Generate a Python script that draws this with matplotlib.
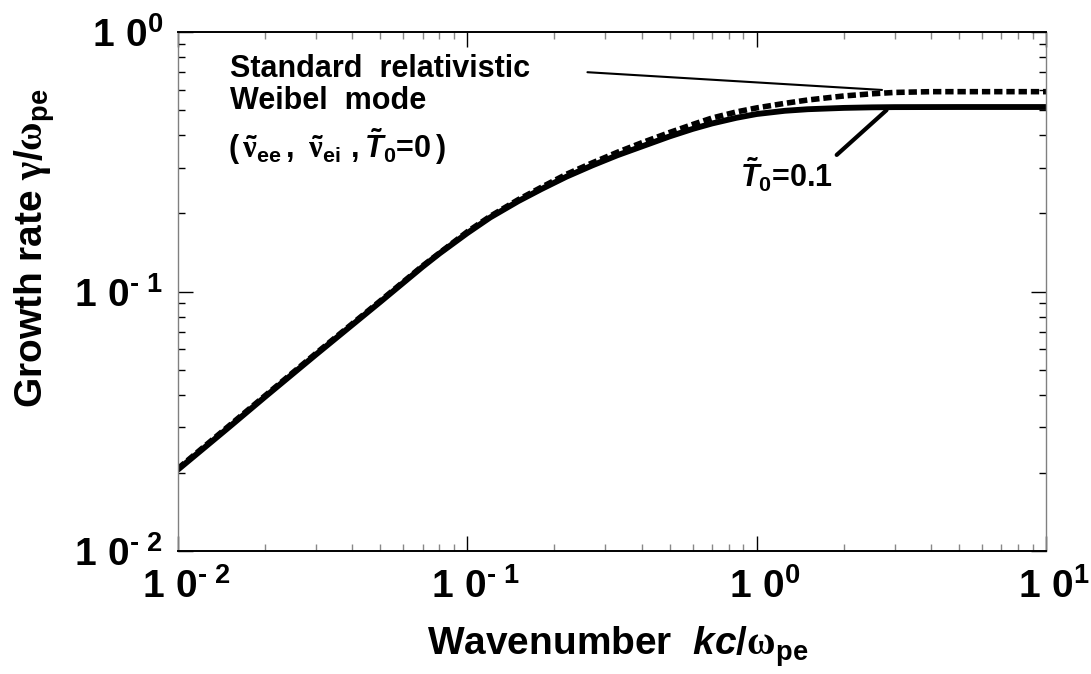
import numpy as np
import matplotlib
matplotlib.use("Agg")
import matplotlib.pyplot as plt
import matplotlib.transforms as mtransforms
from matplotlib.ticker import FixedLocator, FixedFormatter, LogLocator, NullFormatter

# growth rate curves
# standard relativistic Weibel mode (T0 = 0), dotted
k_cold = [0.01, 0.02, 0.03, 0.05, 0.07, 0.1, 0.12, 0.15, 0.18, 0.22, 0.27, 0.33, 0.40, 0.50,
          0.60, 0.70, 0.85, 1.0, 1.25, 1.5, 2.0, 2.5, 3.0, 4.0, 5.0, 10.0]
g_cold = [0.0208, 0.0397, 0.0578, 0.0920, 0.1255, 0.170, 0.195, 0.226, 0.252, 0.283, 0.313, 0.344, 0.374, 0.410,
          0.440, 0.466, 0.492, 0.510, 0.531, 0.547, 0.567, 0.578, 0.585, 0.589, 0.589, 0.589]

# T0 = 0.1, solid
k_warm = [0.01, 0.015, 0.02, 0.03, 0.05, 0.07, 0.08, 0.1, 0.12, 0.15, 0.18, 0.22, 0.27, 0.33, 0.40,
          0.50, 0.60, 0.70, 0.85, 1.0, 1.25, 1.5, 2.0, 2.5, 3.0, 5.0, 10.0]
g_warm = [0.0206, 0.0300, 0.0393, 0.0572, 0.0912, 0.1245, 0.140, 0.168, 0.193, 0.223, 0.248, 0.277, 0.306, 0.335, 0.362,
          0.396, 0.423, 0.444, 0.467, 0.483, 0.497, 0.504, 0.510, 0.5125, 0.5135, 0.514, 0.514]

x_ticks = [1e-2, 1e-1, 1e0, 1e1]
x_labels = [r'$1\ 0^{‐\ 2}$', r'$1\ 0^{‐\ 1}$', r'$1\ 0^{0}$', r'$1\ 0^{1}$']
y_ticks = [1e-2, 1e-1, 1e0]
y_labels = [r'$1\ 0^{‐\ 2}$', r'$1\ 0^{‐\ 1}$', r'$1\ 0^{0}$']

plt.rcParams['font.family'] = ['Liberation Sans', 'DejaVu Sans']
plt.rcParams['font.weight'] = 'bold'
plt.rcParams['axes.labelweight'] = 'bold'
plt.rcParams['mathtext.fontset'] = 'custom'
plt.rcParams['mathtext.rm'] = 'Liberation Sans:bold'
plt.rcParams['mathtext.bf'] = 'Liberation Sans:bold'
plt.rcParams['mathtext.it'] = 'Liberation Sans:bold:italic'
plt.rcParams['mathtext.sf'] = 'Liberation Serif'
plt.rcParams['mathtext.default'] = 'rm'

fig = plt.figure(figsize=(10.91, 6.74), dpi=100)
ax = fig.add_axes([0.1632, 0.1825, 0.7956, 0.770])

ax.plot(k_cold, g_cold, color='black', lw=4, linestyle=(0, (1.5, 0.7)))
ax.plot(k_warm, g_warm, color='black', lw=4.2, solid_capstyle='round')

ax.set_xscale('log')
ax.set_yscale('log')
ax.set_xlim(1e-2, 1e1)
ax.set_ylim(1e-2, 1e0)

ax.xaxis.set_major_locator(FixedLocator(x_ticks))
ax.xaxis.set_major_formatter(FixedFormatter(x_labels))
ax.yaxis.set_major_locator(FixedLocator(y_ticks))
ax.yaxis.set_major_formatter(FixedFormatter(y_labels))
for a in (ax.xaxis, ax.yaxis):
    a.set_minor_locator(LogLocator(base=10, subs=np.arange(2, 10)))
    a.set_minor_formatter(NullFormatter())

ax.tick_params(which='both', direction='in', top=True, right=True, width=1, labelsize=28)
ax.tick_params(which='major', length=11)
ax.tick_params(which='minor', length=5)
ax.tick_params(axis='x', which='minor', color='#888888')
ax.tick_params(axis='x', pad=12)
ax.tick_params(axis='y', pad=11)

# x tick labels sit a bit right of their ticks in the original
shift = mtransforms.ScaledTranslation(8 / 100, 0, fig.dpi_scale_trans)
for lbl in ax.get_xticklabels():
    lbl.set_transform(lbl.get_transform() + shift)

for s in ('left', 'right'):
    ax.spines[s].set_color('#808080')
    ax.spines[s].set_linewidth(1)
for s in ('top', 'bottom'):
    ax.spines[s].set_color('black')
    ax.spines[s].set_linewidth(1.4)

ax.set_xlabel(r'Wavenumber  $\mathit{kc}$/$\mathsf{\omega}_{pe}$', fontsize=28)
ax.set_ylabel(r'Growth rate $\mathsf{\gamma}$/$\mathsf{\omega}_{pe}$', fontsize=28)
ax.xaxis.set_label_coords(0.506, -0.142)
ax.yaxis.set_label_coords(-0.14, 0.584)

# annotations
ax.text(0.0151, 0.671, 'Standard  relativistic', fontsize=22)
ax.text(0.0151, 0.505, 'Weibel  mode', fontsize=22)
ax.text(0.0149, 0.327,
        r'$(\,\tilde{\mathsf{\nu}}_{ee}\,,\ \tilde{\mathsf{\nu}}_{ei}\ ,\tilde{\mathit{T}}_{0}$=0$\,)$',
        fontsize=22)
ax.annotate('', xy=(2.71, 0.598), xytext=(0.26, 0.70),
            arrowprops=dict(arrowstyle='-', lw=1.5, color='black', shrinkA=0, shrinkB=0))

ax.text(0.874, 0.2534, r'$\tilde{\mathit{T}}_{0}$=0.1', fontsize=22)
ax.annotate('', xy=(2.81, 0.50), xytext=(1.89, 0.336),
            arrowprops=dict(arrowstyle='-', lw=3, color='black', shrinkA=0, shrinkB=0))

fig.savefig('out.png', dpi=100)
